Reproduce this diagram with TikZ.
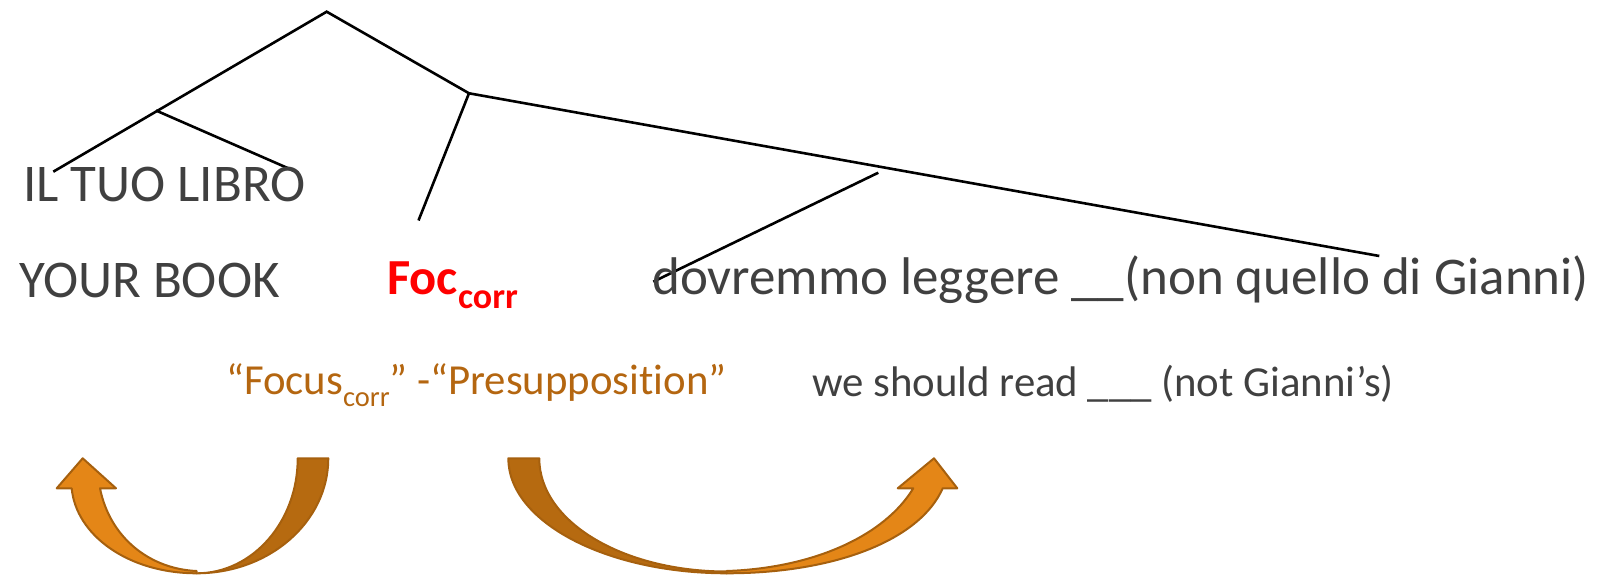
\documentclass[tikz,border=0pt]{standalone}
\usepackage{fontspec}
\setmainfont{Carlito}[Ligatures=NoCommon]
\definecolor{txtgray}{RGB}{64,64,64}
\definecolor{labelorange}{RGB}{180,102,16}
\definecolor{arrowfront}{RGB}{228,134,23}
\definecolor{arrowback}{RGB}{182,106,16}
\definecolor{arrowedge}{RGB}{166,96,14}
\begin{document}
\begin{tikzpicture}[x=1pt,y=-1pt,
  branch/.style={line width=2.6pt, black},
  word/.style={anchor=base west, inner sep=0pt, text=txtgray},
  bigword/.style={word, font=\fontsize{53}{60}\selectfont},
  smallword/.style={word, font=\fontsize{42.8}{48}\selectfont},
  backband/.style={fill=arrowback, draw=arrowedge, line width=2pt, line join=round},
  frontband/.style={fill=arrowfront, draw=arrowedge, line width=2pt, line join=round}]
\useasboundingbox (0,0) rectangle (1610,577);

% tree points
\coordinate (root) at (326.7,11.7);
\coordinate (dp)   at (156,110.5);
\coordinate (dpl)  at (53.3,171.7);
\coordinate (dpr)  at (298.3,172.7);
\coordinate (xp)   at (469,93.3);
\coordinate (foc)  at (418.5,220.5);
\coordinate (xr)   at (1379.3,256);
\coordinate (yp)   at (878.3,172.7);
\coordinate (yl)   at (653.3,281.7);

% branches
\draw[branch] (dpl) -- (root) -- (xp) -- (xr);
\draw[branch] (dp) -- (dpr);
\draw[branch] (xp) -- (foc);
\draw[branch] (yp) -- (yl);

% words
\node[bigword] (tuo) at (23,201.7) {IL TUO LIBRO};
\node[bigword] (your) at (19,297.3) {YOUR BOOK};
\node[word, text=red, font=\fontsize{50.5}{56}\selectfont\bfseries] (focw) at (387,295)
  {Foc\raisebox{-13.5pt}{\fontsize{36}{40}\selectfont corr}};
\node[bigword] (dov) at (652,295) {dovremmo leggere \_\_(non quello di Gianni)};
\node[smallword, text=labelorange] (fp) at (226,395)
  {“Focus\raisebox{-11.5pt}{\fontsize{28.5}{32}\selectfont corr}” -“Presupposition”};
\node[smallword] (wsr) at (812,396.5) {we should read \_\_\_ (not Gianni’s)};

% left curved arrow: back band, then front band with head
\draw[backband] (297.7,458.3) -- (328.3,458.3)
  .. controls (328.3,521.8) and (269.4,573.3) .. (196.7,573.3)
  .. controls (252.5,573.3) and (297.7,521.8) .. cycle;
\draw[frontband] (196.7,573.3)
  .. controls (128,573.3) and (76,535) .. (71.7,488.3)
  -- (56.7,488.3) -- (82.7,458.3) -- (116,488.3) -- (100,488.3)
  .. controls (110,538) and (150,569) .. (196.7,571) -- cycle;

% right curved arrow: back band, then front band with head
\draw[backband] (508.3,458.3) -- (539.3,458.3)
  .. controls (539.3,521.8) and (623.2,571.5) .. (726.7,571.5)
  -- (726.7,573.3)
  .. controls (606.1,573.3) and (508.3,521.8) .. cycle;
\draw[frontband] (726.7,573.3)
  .. controls (835,573.3) and (920,540) .. (942.7,488.3)
  -- (957.3,488.3) -- (934,458.3) -- (897.7,488.3) -- (913.3,488.3)
  .. controls (885,535) and (815,568) .. (726.7,571) -- cycle;
\end{tikzpicture}
\end{document}
